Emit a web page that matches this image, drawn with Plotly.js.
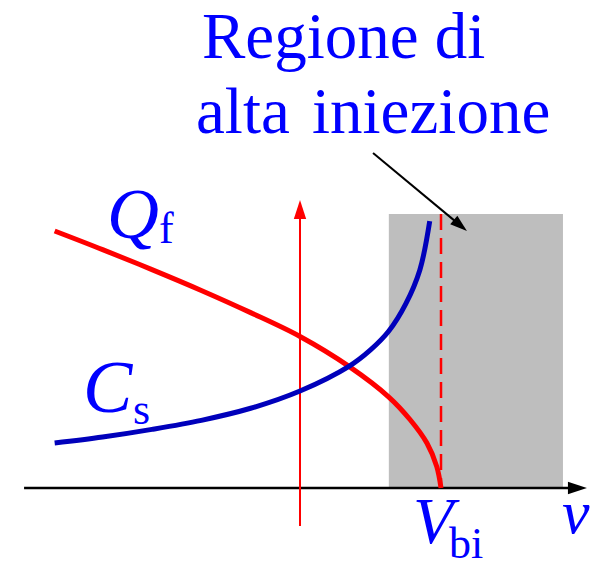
<!DOCTYPE html>
<html>
<head>
<meta charset="utf-8">
<script src="https://cdn.plot.ly/plotly-3.0.1.min.js"></script>
<style>
  html, body { margin: 0; padding: 0; background: #ffffff; }
  #chart { width: 596px; height: 562px; }
</style>
</head>
<body>
<div id="chart"></div>
<script>
// Bias voltage, normalised to the built-in potential (Vbi = 1)
const vQ = [-1.74, -1.40, -1.05, -0.70, -0.35, 0, 0.35, 0.63, 0.78, 0.90, 0.97, 1.0];
// Stored charge Q_f (normalised)
const qf = [0.938, 0.870, 0.797, 0.721, 0.640, 0.553, 0.443, 0.332, 0.250, 0.164, 0.078, 0];
const vC = [-1.74, -1.40, -1.05, -0.70, -0.35, 0, 0.35, 0.50, 0.63, 0.75, 0.85, 0.92];
// Junction capacitance C_s (normalised)
const cs = [0.164, 0.186, 0.214, 0.247, 0.291, 0.354, 0.445, 0.504, 0.573, 0.672, 0.796, 0.974];

// High-injection region
const highInjStart = 0.63;
const highInjEnd = 1.865;
const vbi = 1;

const W = 596, H = 562;
const SERIF = 'Liberation Serif, Times New Roman, Times, serif';
const TEXT_BLUE = '#0000ff';
const RED = '#ff0000';
const DESC = 0.216; // serif descent, in em

// Text placed by its left edge and baseline, in page pixels
function label(text, xPx, basePx, size, italic) {
  return {
    xref: 'paper', yref: 'paper',
    x: xPx / W, y: 1 - (basePx + DESC * size) / H,
    xanchor: 'left', yanchor: 'bottom',
    showarrow: false, text: italic ? '<i>' + text + '</i>' : text,
    borderpad: 0, borderwidth: 0,
    font: { family: SERIF, size: size, color: TEXT_BLUE }
  };
}

// Arrowhead on the last point of a two-point line
const arrowEnd = (size, color) => ({
  symbol: 'arrow', angleref: 'previous', size: [0, size], opacity: 1, color: color,
  line: { width: 0 }
});

const traces = [
  // Vbi: dashed vertical
  { x: [vbi, vbi], y: [1, 0], mode: 'lines',
    line: { color: RED, width: 2.5, dash: '16px,8px' }, hoverinfo: 'skip' },
  // v axis
  { x: [-1.957, 2.035], y: [0, 0], mode: 'lines+markers',
    line: { color: '#000000', width: 2.5 },
    marker: arrowEnd(20, '#000000'), hoverinfo: 'skip' },
  // vertical axis at v = 0
  { x: [0, 0], y: [-0.139, 1.051], mode: 'lines+markers',
    line: { color: RED, width: 2 },
    marker: arrowEnd(20, RED), hoverinfo: 'skip' },
  // Q_f
  { x: vQ, y: qf, mode: 'lines', line: { color: RED, width: 5, shape: 'spline', smoothing: 1 } },
  // C_s
  { x: vC, y: cs, mode: 'lines', line: { color: '#0000bb', width: 5, shape: 'spline', smoothing: 1 } },
  // pointer to the high-injection region
  { x: [0.518, 1.184], y: [1.223, 0.938], mode: 'lines+markers',
    line: { color: '#000000', width: 2 },
    marker: arrowEnd(18, '#000000'), hoverinfo: 'skip' }
];

const layout = {
  width: W, height: H,
  margin: { l: 0, r: 0, t: 0, b: 0 },
  font: { family: SERIF },
  paper_bgcolor: '#ffffff', plot_bgcolor: '#ffffff',
  showlegend: false,
  xaxis: { range: [-300 / 141, 296 / 141], visible: false, fixedrange: true },
  yaxis: { range: [-74 / 274, 488 / 274], visible: false, fixedrange: true },
  shapes: [
    { type: 'rect', xref: 'x', yref: 'y', x0: highInjStart, x1: highInjEnd, y0: 0, y1: 1,
      fillcolor: '#bebebe', line: { width: 0 }, layer: 'below' }
  ],
  annotations: [
    label('Regione di', 202, 58, 65, false),
    label('alta', 196, 133, 65, false),
    label('iniezione', 312, 133, 65, false),
    label('Q', 107, 238, 72, true),
    label('f', 159, 243, 44, false),
    label('C', 83, 412, 74, true),
    label('s', 133, 424, 44, false),
    label('V', 413, 543, 66, true),
    label('bi', 449, 558, 44, false),
    label('v', 562, 533, 62, true)
  ]
};

Plotly.newPlot('chart', traces, layout, { staticPlot: true, displayModeBar: false });
</script>
</body>
</html>
